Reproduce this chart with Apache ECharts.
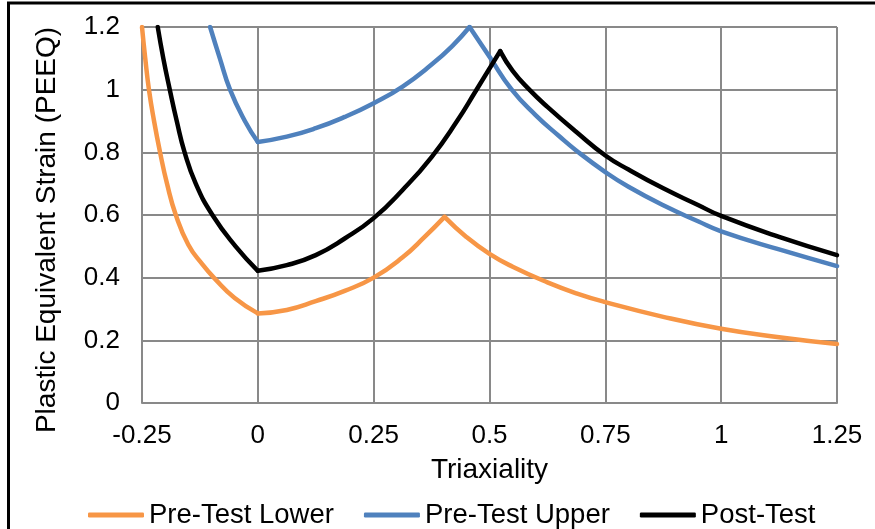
<!DOCTYPE html>
<html>
<head>
<meta charset="utf-8">
<script src="https://cdn.jsdelivr.net/npm/echarts@6/dist/echarts.min.js"></script>
<style>
    html, body { margin: 0; padding: 0; background: #fff; }
    #chart { width: 875px; height: 529px; }
</style>
</head>
<body>
<div id="chart"></div>
<script>
// [triaxiality, PEEQ], one sub-list per branch (split at the kinks)
var seriesNames = ['Pre-Test Lower', 'Pre-Test Upper', 'Post-Test'];
var preLower = [
    [[-0.25, 1.2], [-0.243, 1.1], [-0.235, 1.0], [-0.224, 0.9], [-0.211, 0.8], [-0.196, 0.7],
     [-0.177, 0.6], [-0.15, 0.505], [-0.12, 0.443], [-0.093, 0.397], [-0.05, 0.335], [0, 0.286]],
    [[0, 0.286], [0.0625, 0.297], [0.125, 0.325], [0.1875, 0.358], [0.25, 0.40], [0.3125, 0.465],
     [0.36, 0.53], [0.403, 0.594]],
    [[0.403, 0.594], [0.45, 0.53], [0.5, 0.476], [0.55, 0.435], [0.625, 0.385], [0.6875, 0.35],
     [0.75, 0.322], [0.875, 0.275], [1.0, 0.237], [1.125, 0.21], [1.25, 0.188]]
];
var preUpper = [
    [[-0.103, 1.2], [-0.082, 1.1], [-0.06, 1.0], [-0.028, 0.9], [0, 0.833]],
    [[0, 0.833], [0.0625, 0.85], [0.125, 0.877], [0.1875, 0.913], [0.25, 0.957], [0.3125, 1.01],
     [0.375, 1.08], [0.42, 1.14], [0.457, 1.2]],
    [[0.457, 1.2], [0.5, 1.105], [0.548, 1.0], [0.6, 0.918], [0.65, 0.852], [0.687, 0.806],
     [0.75, 0.737], [0.8, 0.69], [0.875, 0.631], [0.95, 0.58], [1.0, 0.548], [1.125, 0.49], [1.25, 0.437]]
];
var postTest = [
    [[-0.216, 1.2], [-0.204, 1.1], [-0.19, 1.0], [-0.175, 0.9], [-0.158, 0.8], [-0.134, 0.7],
     [-0.098, 0.6], [-0.048, 0.5], [0, 0.422]],
    [[0, 0.422], [0.0625, 0.44], [0.125, 0.472], [0.1875, 0.525], [0.25, 0.59], [0.3125, 0.68],
     [0.375, 0.785], [0.43, 0.9], [0.47, 0.995], [0.523, 1.123]],
    [[0.523, 1.123], [0.55, 1.06], [0.586, 1.0], [0.625, 0.945], [0.6875, 0.865], [0.75, 0.79],
     [0.8, 0.745], [0.875, 0.685], [0.95, 0.632], [1.0, 0.597], [1.125, 0.53], [1.25, 0.472]]
];
var colors = ['#f79646', '#4f81bd', '#000000'];

var font = 'Liberation Sans';
var gridColor = '#898989';

// one line series per branch, branches of a curve share the legend name
var series = [];
[preLower, preUpper, postTest].forEach(function(curve, i){
    curve.forEach(function(branch){
        series.push({
            name: seriesNames[i],
            type: 'line',
            data: branch,
            smooth: 0.5,
            showSymbol: false,
            symbol: 'none',
            itemStyle: { color: colors[i] },
            lineStyle: { width: 4.5, color: colors[i], cap: 'round', join: 'round' }
        });
    });
});

var myChart = echarts.init(document.getElementById('chart'));
var option = {
    animation: false,
    color: colors,
    textStyle: { fontFamily: font, color: '#000' },
    grid: { left: 142, right: 38, top: 27, bottom: 126 },
    graphic: [{
        type: 'rect',
        shape: { x: 8.5, y: 3, width: 900, height: 600 },
        style: { fill: 'none', stroke: '#000', lineWidth: 3 },
        silent: true
    }],
    legend: {
        left: 83,
        top: 496,
        itemWidth: 56,
        itemHeight: 5,
        itemGap: 30,
        icon: 'roundRect',
        textStyle: { fontSize: 27.5, fontFamily: font, color: '#000' },
        data: seriesNames
    },
    xAxis: {
        type: 'value',
        min: -0.25,
        max: 1.25,
        interval: 0.25,
        name: 'Triaxiality',
        nameLocation: 'middle',
        nameGap: 53,
        nameTextStyle: { fontSize: 28, fontFamily: font, color: '#000' },
        axisLine: { show: true, lineStyle: { color: gridColor, width: 2 } },
        axisTick: { show: false },
        axisLabel: { fontSize: 26, margin: 20, color: '#000', fontFamily: font },
        splitLine: { show: true, lineStyle: { color: gridColor, width: 2 } }
    },
    yAxis: {
        type: 'value',
        min: 0,
        max: 1.2,
        interval: 0.2,
        name: 'Plastic Equivalent Strain (PEEQ)',
        nameLocation: 'middle',
        nameGap: 81,
        nameTextStyle: { fontSize: 28, fontFamily: font, color: '#000', padding: [0, 30, 0, 0] },
        axisLine: { show: true, lineStyle: { color: gridColor, width: 2 } },
        axisTick: { show: false },
        axisLabel: { fontSize: 26, margin: 22, color: '#000', fontFamily: font },
        splitLine: { show: true, lineStyle: { color: gridColor, width: 2 } }
    },
    series: series
};
myChart.setOption(option);
</script>
</body>
</html>
